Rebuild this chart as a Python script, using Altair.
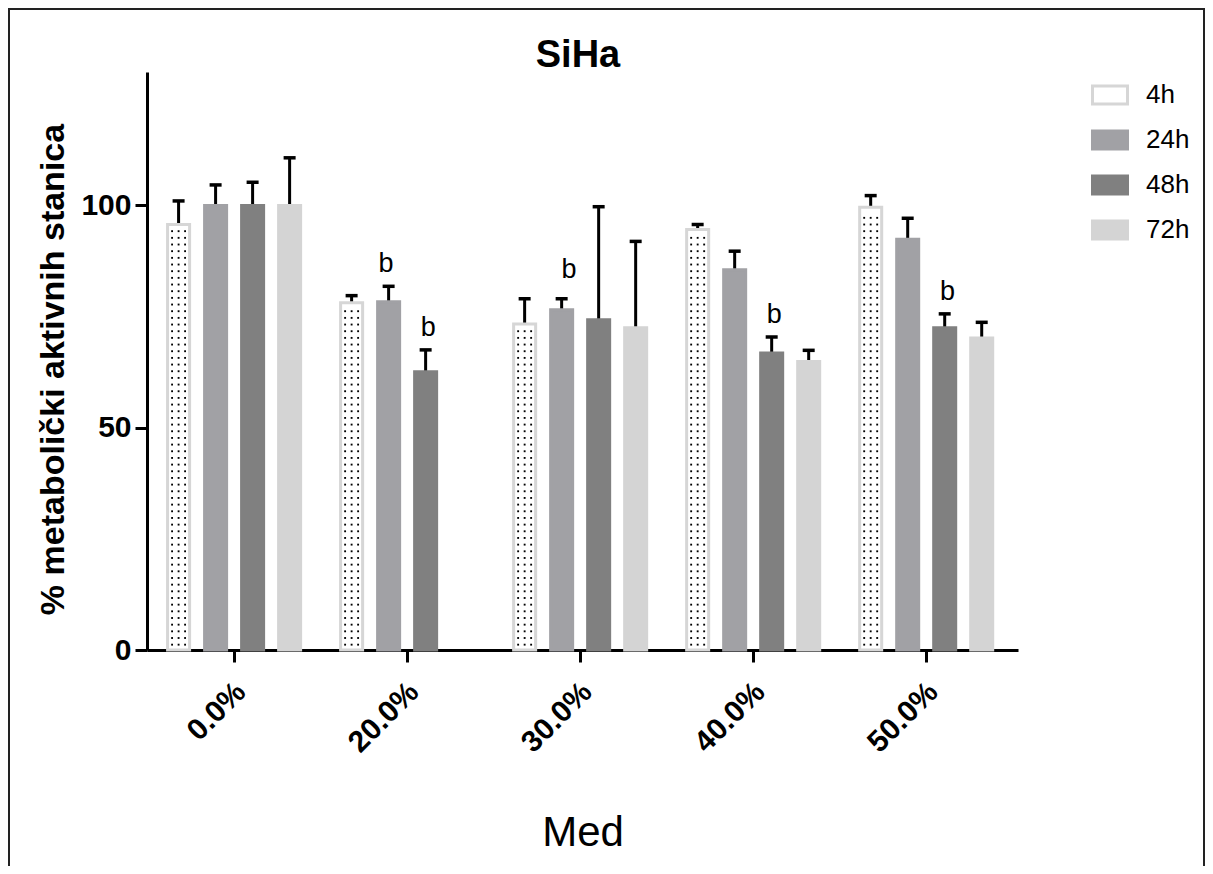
import altair as alt
import pandas as pd
import numpy as np

# ---------------- data ----------------
categories = ["0.0%", "20.0%", "30.0%", "40.0%", "50.0%"]
times = ["4h", "24h", "48h", "72h"]

mean_4h = [95.7, 78.1, 73.3, 94.6, 99.6]
mean_24h = [100.0, 78.3, 76.5, 85.5, 92.4]
mean_48h = [100.0, 62.6, 74.3, 66.8, 72.5]
mean_72h = [100.0, None, 72.5, 64.9, 70.2]

upper_4h = [101.0, 79.7, 79.0, 95.7, 102.2]
upper_24h = [104.6, 81.8, 79.0, 89.7, 97.1]
upper_48h = [105.2, 67.5, 99.7, 70.4, 75.6]
upper_72h = [110.7, None, 91.9, 67.4, 73.7]

sig_cats = ["20.0%", "20.0%", "40.0%", "50.0%"]
sig_times = ["24h", "48h", "48h", "48h"]
sig_shift_cats = ["30.0%"]
sig_shift_times = ["24h"]

title_text = ["SiHa"]

fill_colors = ["#ffffff", "#a1a1a5", "#808080", "#d4d4d4"]
stroke_colors = ["#d6d6d6", "#a1a1a5", "#808080", "#d4d4d4"]

FONT = "Liberation Sans"

# ---------------- tables ----------------
rows = []
for t, means, ups in zip(times, [mean_4h, mean_24h, mean_48h, mean_72h],
                         [upper_4h, upper_24h, upper_48h, upper_72h]):
    for c, m, u in zip(categories, means, ups):
        if m is None:
            continue
        rows.append({"cat": c, "time": t, "mean": m, "upper": u})
df = pd.DataFrame(rows)

lookup = {(r["cat"], r["time"]): r["upper"] for r in rows}
sig_df = pd.DataFrame({"cat": sig_cats, "time": sig_times,
                       "upper": [lookup[(c, t)] for c, t in zip(sig_cats, sig_times)]})
sig2_df = pd.DataFrame({"cat": sig_shift_cats, "time": sig_shift_times,
                        "upper": [lookup[(c, t)] for c, t in zip(sig_shift_cats, sig_shift_times)]})

# dotted texture of the 4h bars
dot_rows = []
for c, m in zip(categories, mean_4h):
    for yv in np.arange(1.2, m - 1.0, 1.5):
        for col in ["a", "b", "c"]:
            dot_rows.append({"cat": c, "col": col, "y": float(yv)})
dots_df = pd.DataFrame(dot_rows)

# ---------------- shared encodings ----------------
W, H = 871, 578

x_axis = alt.Axis(labelAngle=-45, labelAlign="right", labelBaseline="middle",
                  labelFont=FONT, labelFontSize=30, labelFontWeight="bold",
                  labelColor="black", labelPadding=25, labelOffset=7,
                  tickSize=12, tickWidth=3, tickColor="black",
                  domainWidth=3, domainColor="black", grid=False,
                  title="Med", titleFont=FONT, titleFontSize=42,
                  titleFontWeight="normal", titleColor="black",
                  titleBaseline="alphabetic", titleY=195)
y_axis = alt.Axis(values=[0, 50, 100], labelFont=FONT, labelFontSize=30,
                  labelFontWeight="bold", labelColor="black", labelPadding=4,
                  tickSize=12, tickWidth=3, tickColor="black",
                  domainWidth=3, domainColor="black", grid=False,
                  title="% metabolički aktivnih stanica", titleFont=FONT,
                  titleFontSize=34, titleFontWeight="bold", titleColor="black",
                  titleBaseline="alphabetic", titleAngle=-90, titleAlign="center",
                  titleX=-84, titleY=297)

x_scale = alt.Scale(domain=categories, paddingInner=0, paddingOuter=0.017, align=0.1)
y_scale = alt.Scale(domain=[0, 130], nice=False, zero=True)


def X():
    return alt.X("cat:N", sort=categories, scale=x_scale, axis=x_axis)


def Y(field):
    return alt.Y(f"{field}:Q", scale=y_scale, axis=y_axis)


def XO():
    return alt.XOffset("time:N", sort=times,
                        scale=alt.Scale(domain=times, paddingInner=0.405, paddingOuter=0.54))


legend = alt.Legend(title=None, orient="none", legendX=944, legendY=4,
                    symbolType="M-1,-0.514H1V0.514H-1Z",
                    symbolSize=1225, symbolStrokeWidth=3, symbolOpacity=1,
                    labelFont=FONT, labelFontSize=26, labelColor="black",
                    labelOffset=17, rowPadding=11, padding=0)

base = alt.Chart(df)

frame = alt.Chart(pd.DataFrame({"k": [0]})).mark_rect(
    fill="white", fillOpacity=0, stroke="#222222", strokeWidth=2
).encode(x=alt.value(-138), x2=alt.value(1057), y=alt.value(-63), y2=alt.value(900))

title = alt.Chart(pd.DataFrame({"t": title_text})).mark_text(
    font=FONT, fontSize=38, fontWeight="bold", color="black",
    align="center", baseline="alphabetic"
).encode(text="t:N", x=alt.value(431), y=alt.value(-5))

bars = base.mark_bar(strokeWidth=3).encode(
    x=X(), xOffset=XO(), y=Y("mean"),
    fill=alt.Fill("time:N", sort=times,
                  scale=alt.Scale(domain=times, range=fill_colors), legend=legend),
    stroke=alt.Stroke("time:N", sort=times,
                      scale=alt.Scale(domain=times, range=stroke_colors), legend=legend),
)

dots = alt.Chart(dots_df).mark_square(size=3.5, color="black", opacity=1).encode(
    x=X(),
    xOffset=alt.XOffset("col:N", scale=alt.Scale(type="point", domain=["a", "b", "c"],
                                                 range=[24.5, 37.5], padding=0)),
    y=Y("y"),
)

err = base.mark_rule(strokeWidth=3, color="black").encode(
    x=X(), xOffset=XO(), y=Y("mean"), y2="upper:Q"
)
caps = base.mark_tick(thickness=3.5, size=12, color="black", opacity=1).encode(
    x=X(), xOffset=XO(), y=Y("upper")
)

sig = alt.Chart(sig_df).mark_text(text="b", font=FONT, fontSize=27, color="black",
                                  baseline="alphabetic", dy=-14).encode(
    x=X(), xOffset=XO(), y=Y("upper")
)
sig2 = alt.Chart(sig2_df).mark_text(text="b", font=FONT, fontSize=27, color="black",
                                    baseline="alphabetic", dy=-21, dx=10).encode(
    x=X(), xOffset=XO(), y=Y("upper")
)

chart = alt.layer(frame, title, err, bars, dots, caps, sig, sig2).resolve_scale(
    xOffset="independent"
).properties(
    width=W, height=H,
    autosize=alt.AutoSizeParams(type="none"),
    padding={"left": 139, "top": 64, "right": 187, "bottom": 216},
).configure(
    background="white",
    view=alt.ViewConfig(stroke="transparent", strokeWidth=0),
)

chart.save("out.html", embed_options={"renderer": "svg", "actions": False})
